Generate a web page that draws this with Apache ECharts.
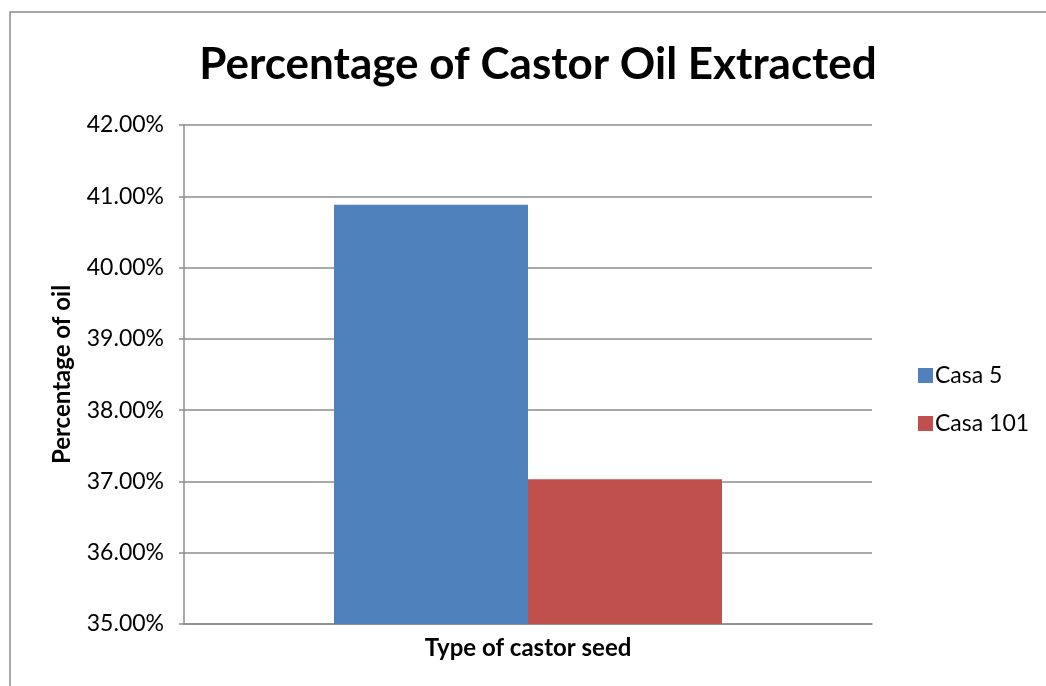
<!DOCTYPE html>
<html>
<head>
<meta charset="utf-8">
<script src="https://cdn.jsdelivr.net/npm/echarts@6/dist/echarts.min.js"></script>
<style>
  html, body { margin: 0; padding: 0; background: #fff; }
  #chart { width: 1046px; height: 686px; }
</style>
</head>
<body>
<div id="chart"></div>
<script>
// Oil yield per castor seed variety (percent)
const categories = ['Type of castor seed'];
const seriesNames = ['Casa 5', 'Casa 101'];
const casa5Values = [40.88];
const casa101Values = [37.03];
const colors = ['#4F81BD', '#C0504D'];

const FONT = 'Lato, "Open Sans", sans-serif';

const chart = echarts.init(document.getElementById('chart'), null, { renderer: 'canvas' });

chart.setOption({
  backgroundColor: '#ffffff',
  animation: false,
  title: {
    text: 'Percentage of Castor Oil Extracted',
    left: 533,
    top: 38,
    textAlign: 'center',
    textStyle: { fontFamily: FONT, fontWeight: 'bold', fontSize: 44, color: '#000' }
  },
  graphic: [{
    type: 'rect',
    shape: { x: 10, y: 12, width: 1100, height: 720 },
    style: { fill: 'none', stroke: '#8c8c8c', lineWidth: 1.5 },
    silent: true
  }],
  legend: {
    orient: 'vertical',
    left: 913,
    top: 359,
    itemWidth: 15,
    itemHeight: 15,
    itemGap: 25,
    icon: 'rect',
    textStyle: { fontFamily: FONT, fontSize: 23, lineHeight: 23, color: '#000', padding: [0, 0, 0, -3] },
    data: seriesNames
  },
  grid: { left: 184, right: 174, top: 125, bottom: 62, containLabel: false },
  xAxis: {
    type: 'category',
    data: categories,
    axisLine: { lineStyle: { color: '#8c8c8c', width: 1.5 } },
    axisTick: { show: false },
    axisLabel: {
      fontFamily: FONT, fontWeight: 'bold', fontSize: 24, color: '#000', margin: 12
    }
  },
  yAxis: {
    type: 'value',
    min: 35,
    max: 42,
    interval: 1,
    name: 'Percentage of oil',
    nameLocation: 'middle',
    nameGap: 110,
    nameRotate: 90,
    nameTextStyle: { fontFamily: FONT, fontWeight: 'bold', fontSize: 24, color: '#000' },
    axisLine: { show: true, lineStyle: { color: '#8c8c8c', width: 1.5 } },
    axisTick: { show: true, inside: false, length: 5, lineStyle: { color: '#8c8c8c', width: 1.5 } },
    splitLine: { lineStyle: { color: '#8c8c8c', width: 1.5 } },
    axisLabel: {
      fontFamily: FONT, fontSize: 23, color: '#000', margin: 20,
      formatter: v => v.toFixed(2) + '%'
    }
  },
  series: [
    {
      name: seriesNames[0], type: 'bar', data: casa5Values,
      barWidth: 194, barGap: '0%',
      itemStyle: { color: colors[0] }
    },
    {
      name: seriesNames[1], type: 'bar', data: casa101Values,
      barWidth: 194, barGap: '0%',
      itemStyle: { color: colors[1] }
    }
  ]
});
</script>
</body>
</html>
